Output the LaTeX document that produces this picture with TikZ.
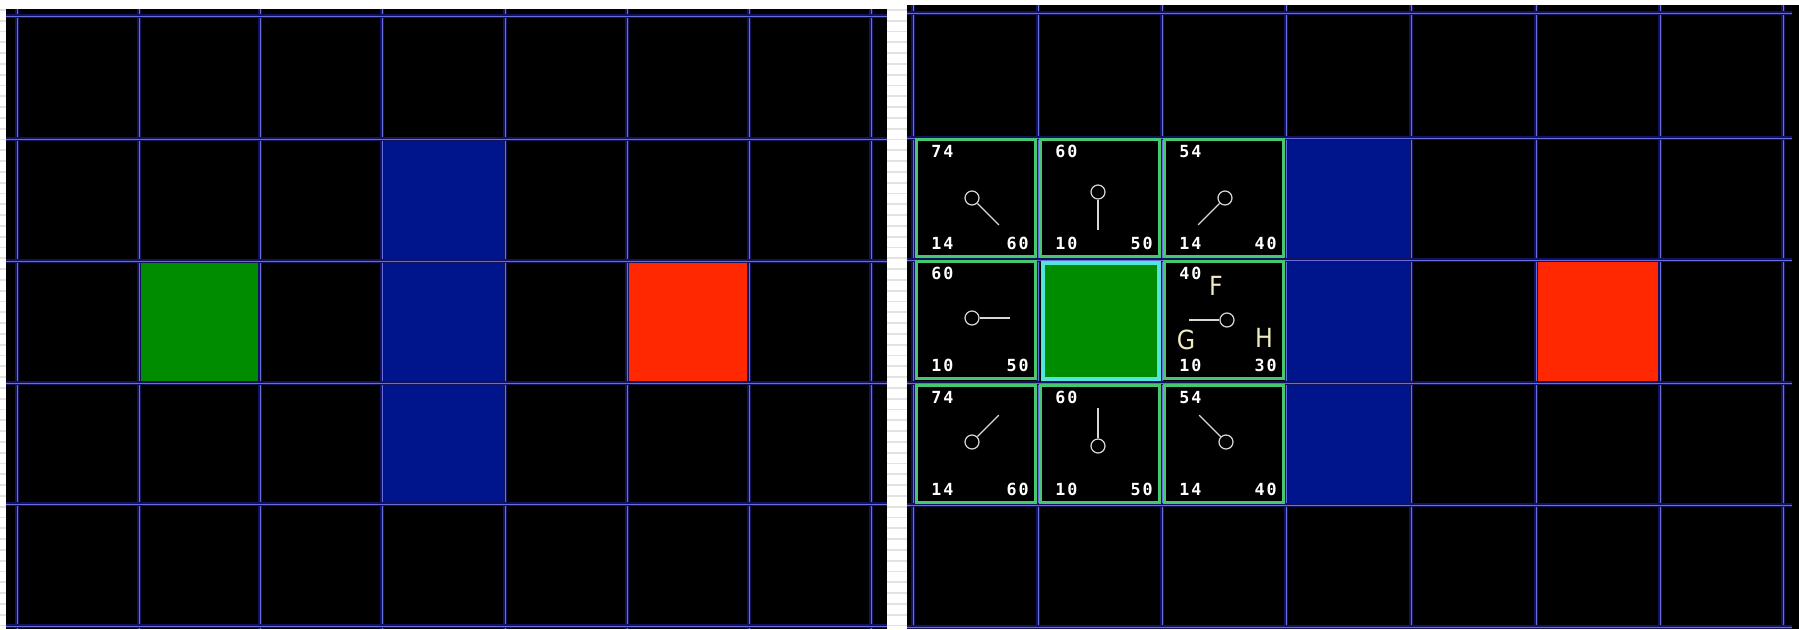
\documentclass[tikz,border=0pt]{standalone}
\usepackage{fontspec}
\newfontfamily\pixfont{DejaVu Sans Mono}[LetterSpace=12]
\newfontfamily\tagfont{DejaVu Sans Condensed}
\definecolor{gridglow}{RGB}{18,18,95}
\definecolor{gridcore}{RGB}{105,110,222}
\definecolor{wallblue}{RGB}{0,20,140}
\definecolor{startgreen}{RGB}{0,140,0}
\definecolor{goalred}{RGB}{255,40,0}
\definecolor{cellgreen}{RGB}{70,200,110}
\definecolor{startcyan}{RGB}{80,230,220}
\definecolor{ptrgray}{RGB}{215,215,215}
\definecolor{tagyellow}{RGB}{240,235,190}
\definecolor{stripegray}{RGB}{226,226,226}
\usetikzlibrary{calc}

\begin{document}
\begin{tikzpicture}[x=0.02cm, y=-0.02cm,
  glow/.style={draw=gridglow, line width=1.8pt},
  gridline/.style={draw=gridcore, line width=0.55pt},
  cellbox/.style={draw=cellgreen, line width=1.3pt, fill=black, inner sep=0pt,
    minimum width=2.38cm, minimum height=2.34cm},
  startbox/.style={draw=startcyan, line width=2.2pt, fill=startgreen, inner sep=0pt,
    minimum width=2.32cm, minimum height=2.32cm},
  cost/.style={font=\pixfont\bfseries\fontsize{9.5}{9.5}\selectfont, text=white, inner sep=0pt},
  ptr/.style={circle, draw=ptrgray, line width=0.7pt, minimum size=0.28cm, inner sep=0pt},
  ptrline/.style={draw=ptrgray, line width=0.7pt},
  tag/.style={font=\tagfont\fontsize{15}{15}\selectfont, text=tagyellow, inner sep=0pt}]

\useasboundingbox (0,0) rectangle (1799,629);
\fill[white] (0,0) rectangle (1799,629);

% striped margins
\foreach \s in {0,...,57} {
  \fill[stripegray] (0,{9+10.8*\s}) rectangle (6,{10.8+10.8*\s});
  \fill[stripegray] (887,{9+10.8*\s}) rectangle (907,{10.8+10.8*\s});
}

% left panel
\fill[black] (6,9) rectangle (887,629);
\fill[wallblue] (382,139) rectangle (505,504);
\fill[startgreen] (139,261) rectangle (260,383);
\fill[goalred] (627,261) rectangle (749,383);
\foreach \gx in {17,139,260,382,505,627,749,871} {
  \draw[glow] (\gx,9) -- (\gx,629);
  \draw[gridline] (\gx,9) -- (\gx,629);
}
\foreach \gy in {16,139,261,383,504,626} {
  \draw[glow] (6,\gy) -- (887,\gy);
  \draw[gridline] (6,\gy) -- (887,\gy);
}

% right panel
\fill[black] (907,5) rectangle (1799,629);
\fill[wallblue] (1286,138) rectangle (1411,505);
\fill[goalred] (1536,260) rectangle (1660,383);
\foreach \gx in {913,1038,1162,1286,1411,1536,1660,1783} {
  \draw[glow] (\gx,5) -- (\gx,629);
  \draw[gridline] (\gx,5) -- (\gx,629);
}
\foreach \gy in {13,138,260,383,505,627} {
  \draw[glow] (907,\gy) -- (1792,\gy);
  \draw[gridline] (907,\gy) -- (1792,\gy);
}

\node[startbox] (start) at (1101,321) {};

\foreach \nm/\cx/\cy/\fv/\gv/\hv/\px/\py/\ang in {
  a/976/198/74/14/60/972/198/45,
  b/1100/198/60/10/50/1098/192/90,
  c/1224/198/54/14/40/1225/198/135,
  d/976/320/60/10/50/972/318/0,
  f/1224/320/40/10/30/1227/320/180,
  g/976/444/74/14/60/972/442/-45,
  h/1100/444/60/10/50/1098/446/-90,
  i/1224/444/54/14/40/1226/442/-135} {
  \node[cellbox] (cell\nm) at (\cx,\cy) {};
  \node[cost] (f\nm) at ($(cell\nm.north west)+(27,13)$) {\fv};
  \node[cost] (g\nm) at ($(cell\nm.south west)+(27,-14)$) {\gv};
  \node[cost] (h\nm) at ($(cell\nm.south east)+(-19,-14)$) {\hv};
  \node[ptr] (p\nm) at (\px,\py) {};
  \coordinate (e\nm) at ($(p\nm)+(\ang:38)$);
  \draw[ptrline] (p\nm) -- (e\nm);
}

\node[tag] (tagF) at (1216,286) {F};
\node[tag] (tagG) at (1186,340) {G};
\node[tag] (tagH) at (1264,338) {H};

\end{tikzpicture}
\end{document}
